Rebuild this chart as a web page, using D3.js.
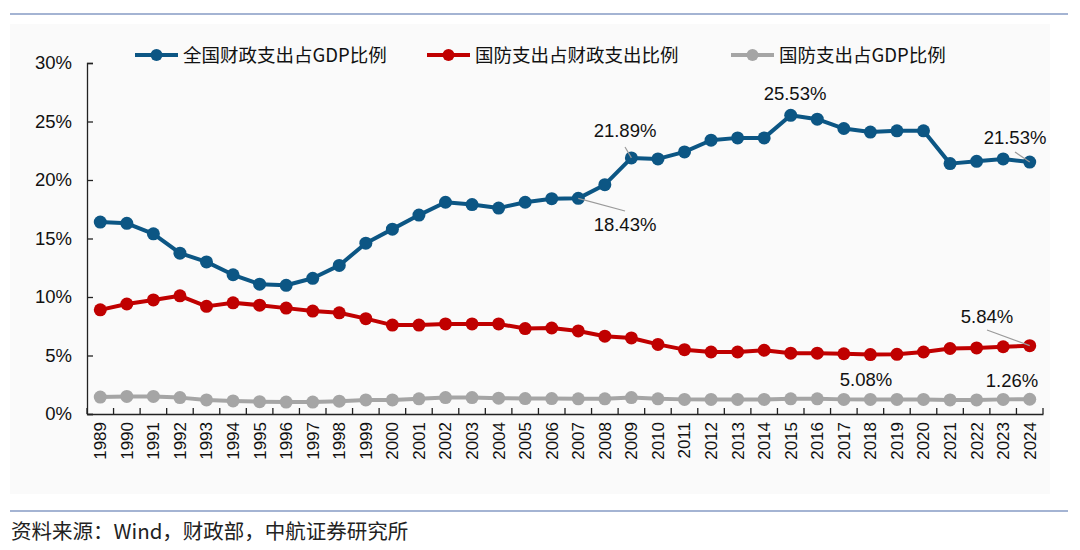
<!DOCTYPE html>
<html><head><meta charset="utf-8">
<script src="https://cdn.jsdelivr.net/npm/d3@7"></script>
<style>
body{margin:0;background:#fff;}
text{font-family:"Liberation Sans",Arial,"Noto Sans CJK SC",sans-serif;}
</style></head>
<body><svg id="c" width="1080" height="550"></svg>
<script>
const years = ["1989","1990","1991","1992","1993","1994","1995","1996","1997","1998","1999","2000","2001","2002","2003","2004","2005","2006","2007","2008","2009","2010","2011","2012","2013","2014","2015","2016","2017","2018","2019","2020","2021","2022","2023","2024"];
const fiscalGdp = [16.4,16.3,15.4,13.75,13.0,11.9,11.1,11.0,11.6,12.7,14.6,15.8,17.0,18.1,17.9,17.6,18.1,18.4,18.43,19.6,21.89,21.8,22.4,23.4,23.6,23.6,25.53,25.2,24.4,24.1,24.2,24.2,21.4,21.6,21.8,21.53];
const defFiscal = [8.9,9.4,9.75,10.1,9.2,9.5,9.3,9.05,8.8,8.65,8.15,7.6,7.6,7.7,7.7,7.7,7.3,7.35,7.1,6.65,6.5,5.95,5.5,5.3,5.3,5.45,5.2,5.2,5.15,5.08,5.1,5.3,5.6,5.65,5.75,5.84];
const defGdp = [1.45,1.5,1.5,1.4,1.2,1.12,1.05,1.02,1.02,1.1,1.2,1.2,1.3,1.4,1.4,1.35,1.32,1.32,1.3,1.3,1.4,1.3,1.25,1.25,1.25,1.25,1.3,1.3,1.25,1.25,1.25,1.25,1.2,1.2,1.25,1.26];
const seriesNames = ["全国财政支出占GDP比例","国防支出占财政支出比例","国防支出占GDP比例"];
const seriesColors = ["#0c5684","#c00000","#a5a5a5"];
const yTicks = [0,5,10,15,20,25,30];
const footer = "资料来源：Wind，财政部，中航证券研究所";

const svg = d3.select("#c");
svg.append("rect").attr("x",10).attr("y",24).attr("width",1040).attr("height",470).attr("fill","#fafafa");
svg.append("line").attr("x1",10).attr("x2",1068).attr("y1",14).attr("y2",14).attr("stroke","#4a6aa8").attr("stroke-width",1.2);
svg.append("line").attr("x1",10).attr("x2",1068).attr("y1",511).attr("y2",511).attr("stroke","#4a6aa8").attr("stroke-width",1.2);

const x = d3.scaleBand().domain(years).range([87,1043]);
const y = d3.scaleLinear().domain([0,30]).range([414,63]);

const yAxis = d3.axisLeft(y).tickValues(yTicks).tickFormat(d=>d+"%").tickSizeInner(-6).tickSizeOuter(-6).tickPadding(15);
const ga = svg.append("g").attr("transform","translate(87,0)").call(yAxis);
ga.selectAll("text").attr("font-size",18.5).attr("fill","#111");
ga.selectAll("line,path").attr("stroke","#222").attr("stroke-width",1.3);

const xAxis = d3.axisBottom(x).tickSize(0).tickPadding(0);
const gx = svg.append("g").attr("transform","translate(0,414)").call(xAxis);
gx.select("path").attr("stroke","#222").attr("stroke-width",1.3);
gx.selectAll("text").attr("font-size",17).attr("fill","#111")
  .attr("transform","rotate(-90)").attr("text-anchor","end").attr("dy","0.35em").attr("x",-8).attr("y",0);
// boundary ticks
const bounds = years.map(d=>x(d)).concat([x.range()[1]]);
gx.selectAll("line.bt").data(bounds).enter().append("line").attr("class","bt")
  .attr("x1",d=>d).attr("x2",d=>d).attr("y1",0).attr("y2",-6).attr("stroke","#222").attr("stroke-width",1.3);

const cx = d=>x(d)+x.bandwidth()/2;
const allSeries = [fiscalGdp,defFiscal,defGdp];
const line = d3.line().x((d,i)=>cx(years[i])).y(d=>y(d));
[2,1,0].forEach(k=>{
  svg.append("path").datum(allSeries[k]).attr("d",line).attr("fill","none").attr("stroke",seriesColors[k]).attr("stroke-width",4).attr("stroke-linejoin","round");
  svg.selectAll("circle.s"+k).data(allSeries[k]).enter().append("circle").attr("class","s"+k)
    .attr("cx",(d,i)=>cx(years[i])).attr("cy",d=>y(d)).attr("r",6.5).attr("fill",seriesColors[k]);
});

// legend
const legX = [135,427,731];
seriesNames.forEach((n,k)=>{
  const g = svg.append("g").attr("transform",`translate(${legX[k]},55)`);
  g.append("line").attr("x1",0).attr("x2",43).attr("stroke",seriesColors[k]).attr("stroke-width",4);
  g.append("circle").attr("cx",21.5).attr("r",6).attr("fill",seriesColors[k]);
  g.append("text").attr("x",48).attr("dy","0.36em").attr("font-size",18.5).attr("fill","#111")
    .style("font-family","'Noto Sans CJK SC','Liberation Sans',sans-serif").text(n);
});

// annotations
function ann(series,idx,label,tx,ty,leader){
  const v = series[idx];
  svg.append("text").attr("x",tx).attr("y",ty).attr("text-anchor","middle").attr("font-size",18.5).attr("fill","#111").text(label);
  if(leader){
    svg.append("line").attr("x1",leader[0]).attr("y1",leader[1]).attr("x2",cx(years[idx])).attr("y2",y(v))
      .attr("stroke","#9a9a9a").attr("stroke-width",1.2);
  }
}
const iOf = yr=>years.indexOf(yr);
ann(fiscalGdp,iOf("2009"),"21.89%",625,137,[625,147]);
ann(fiscalGdp,iOf("2007"),"18.43%",625,231,[625,211]);
ann(fiscalGdp,iOf("2015"),"25.53%",795,100,null);
ann(fiscalGdp,iOf("2024"),"21.53%",1015,144,[1015,152]);
ann(defFiscal,iOf("2024"),"5.84%",987,323,[987,330]);
ann(defFiscal,iOf("2018"),"5.08%",866,386,null);
ann(defGdp,iOf("2024"),"1.26%",1012,387,null);

svg.append("text").attr("x",11).attr("y",539).attr("font-size",20.5).attr("fill","#222")
  .style("font-family","'Noto Sans CJK SC',serif").text(footer);
</script></body></html>
